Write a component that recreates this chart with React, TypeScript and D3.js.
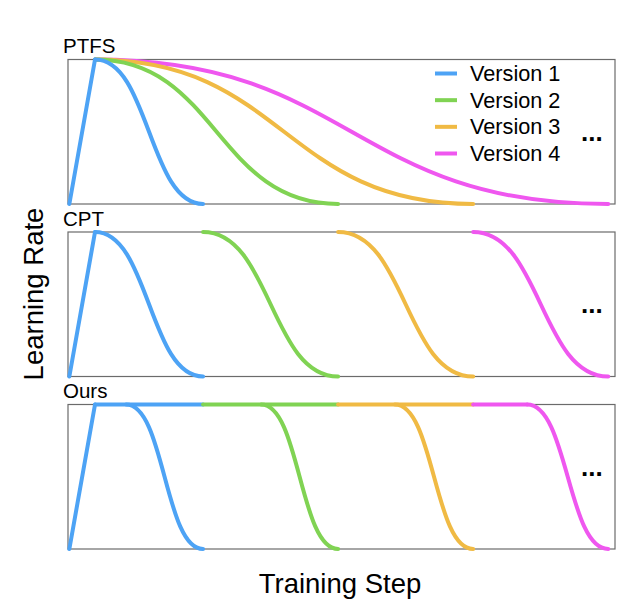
import * as d3 from "d3";

const panelNames = ["PTFS", "CPT", "Ours"];
const versionNames = ["Version 1", "Version 2", "Version 3", "Version 4"];
const versionColors = ["#4da3f5", "#80d353", "#f0ba44", "#ef57ef"];

// schedule key points, in units of one version's training length
const warmupEnd = 0.2;
const versionEnds = [1, 2, 3, 4];
const cptDecayStarts = [0.2, 1, 2, 3];
const oursStableStarts = [0.2, 1, 2, 3];
const oursStableEnds = [1, 2, 3, 3.4];
const oursDecayStarts = [0.43, 1.43, 2.42, 3.4];
const peakLR = 1;
const minLR = 0;

const W = 639;
const H = 613;
const left = 68;
const right = 615;
const firstTop = 59.5;
const panelH = 144.5;
const panelStep = 172.5;
const dotsBaseline = [81.5, 81, 71.5]; // "..." offset from panel top
const font = "Liberation Sans, Arial, Helvetica, sans-serif";

const x = d3.scaleLinear().domain([0, 4.05]).range([left, right]);

const Panel = ({ name, index }: { name: string; index: number }) => {
  const top = firstTop + index * panelStep;
  const y = d3.scaleLinear().domain([minLR, peakLR]).range([top + panelH, top]);
  const bump = d3.line<[number, number]>()
    .x((d) => x(d[0]))
    .y((d) => y(d[1]))
    .curve(d3.curveBumpX);
  const straight = d3.line<[number, number]>()
    .x((d) => x(d[0]))
    .y((d) => y(d[1]));

  const paths: { d: string; color: string }[] = [];
  const warmup = straight([[0.01, minLR], [warmupEnd, peakLR]]) as string;

  if (name === "PTFS") {
    for (let i = versionEnds.length - 1; i >= 0; i--) {
      paths.push({ d: bump([[warmupEnd, peakLR], [versionEnds[i], minLR]]) as string, color: versionColors[i] });
    }
  } else if (name === "CPT") {
    versionEnds.forEach((end, i) => {
      paths.push({ d: bump([[cptDecayStarts[i], peakLR], [end, minLR]]) as string, color: versionColors[i] });
    });
  } else {
    versionEnds.forEach((end, i) => {
      paths.push({ d: straight([[oursStableStarts[i], peakLR], [oursStableEnds[i], peakLR]]) as string, color: versionColors[i] });
    });
    versionEnds.forEach((end, i) => {
      paths.push({ d: bump([[oursDecayStarts[i], peakLR], [end, minLR]]) as string, color: versionColors[i] });
    });
  }

  return (
    <g>
      <text x={63} y={top - 6.5} fontSize={20.5} fontFamily={font} fill="#000">{name}</text>
      <rect x={left} y={top} width={right - left} height={panelH} fill="none" stroke="#6b6b6b" strokeWidth={1.2} />
      {paths.map((p, i) => (
        <path key={i} d={p.d} fill="none" stroke={p.color} strokeWidth={4} strokeLinecap="round" />
      ))}
      <path d={warmup} fill="none" stroke={versionColors[0]} strokeWidth={4} strokeLinecap="round" />
      <text x={581} y={top + dotsBaseline[index]} fontSize={26} fontWeight="bold" fontFamily={font} fill="#000">...</text>
    </g>
  );
};

export default function App() {
  const legendY = d3.scalePoint<string>().domain(versionNames).range([73.5, 153.5]);
  return (
    <svg width={W} height={H} style={{ position: "absolute", left: 0, top: 0, background: "#fff" }}>
      {panelNames.map((n, i) => (
        <Panel key={n} name={n} index={i} />
      ))}
      {versionNames.map((v, i) => (
        <g key={v}>
          <line x1={435} x2={457} y1={legendY(v)} y2={legendY(v)} stroke={versionColors[i]} strokeWidth={4} />
          <text x={470} y={(legendY(v) as number) + 7.5} fontSize={21.7} fontFamily={font} fill="#000">{v}</text>
        </g>
      ))}
      <text
        transform="translate(43,294) rotate(-90)"
        textAnchor="middle"
        fontSize={27.5}
        fontFamily={font}
        fill="#000"
      >
        Learning Rate
      </text>
      <text x={340} y={593} textAnchor="middle" fontSize={27.5} fontFamily={font} fill="#000">Training Step</text>
    </svg>
  );
}
